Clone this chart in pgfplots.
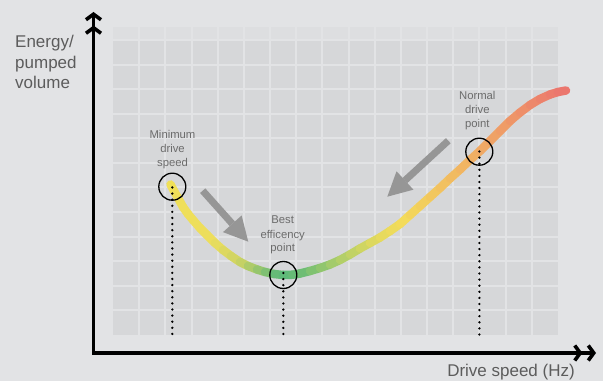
\documentclass[border=0pt]{standalone}
\usepackage{pgfplots}
\pgfplotsset{compat=1.18}
\usetikzlibrary{arrows.meta}
\usepackage{fontspec}
\setmainfont{Liberation Sans}
\definecolor{bggray}{RGB}{226,227,229}
\definecolor{cellgray}{RGB}{214,215,217}
\definecolor{topgray}{RGB}{221,222,224}
\definecolor{arrowgray}{RGB}{150,150,150}
\definecolor{axislbl}{RGB}{92,92,92}
\definecolor{lblcol}{RGB}{108,108,108}
\pgfplotsset{colormap={curvemap}{
 rgb255(57pt)=(240,224,88);
 rgb255(100pt)=(237,222,92);
 rgb255(128pt)=(205,211,100);
 rgb255(150pt)=(145,196,110);
 rgb255(170pt)=(90,185,122);
 rgb255(192pt)=(110,189,116);
 rgb255(227pt)=(172,205,105);
 rgb255(267pt)=(228,218,94);
 rgb255(292pt)=(243,219,90);
 rgb255(327pt)=(242,196,95);
 rgb255(367pt)=(240,172,100);
 rgb255(407pt)=(238,146,105);
 rgb255(453pt)=(235,116,110)}}
\newcommand{\lblfont}{\fontsize{11.3bp}{13bp}\selectfont}
\newcommand{\axfont}{\fontsize{17bp}{20bp}\selectfont}
\tikzset{chev/.tip={Straight Barb[length=5.5bp,width=15bp,sep=4bp]Straight Barb[length=5.5bp,width=15bp,sep=4bp]}}
\begin{document}
\begin{tikzpicture}
\begin{axis}[
  scale only axis, width=445bp, height=308bp,
  xmin=0, xmax=445, ymin=0, ymax=308,
  hide axis, clip=false,
]
% page background
\fill[bggray] (axis cs:-113,-46) rectangle (axis cs:490,335);
% grid cells
\addplot[fill=topgray, draw=none] coordinates {(0,295) (445,295) (445,308) (0,308)} -- cycle;
\addplot[fill=cellgray, draw=none] coordinates {(0,0) (445,0) (445,295) (0,295)} -- cycle;
\pgfplotsinvokeforeach{26.18,52.35,78.53,104.70,130.88,157.06,183.23,209.41,235.59,261.76,287.94,314.12,340.29,366.47,392.65,418.82}{
  \addplot[bggray, line width=2bp] coordinates {(#1,0) (#1,308)};
}
\pgfplotsinvokeforeach{24.58,49.17,73.75,98.33,122.92,147.5,172.08,196.67,221.25,245.83,270.42,295}{
  \addplot[bggray, line width=2bp] coordinates {(0,#1) (445,#1)};
}
% axes
\addplot[black, line width=3.6bp, line join=miter, chev-chev]
  coordinates {(-19.5,327) (-19.5,-18) (487,-18)};
% curve
\addplot[mesh, point meta=x, point meta min=57, point meta max=453,
  colormap name=curvemap, line width=8.5bp, line cap=round, line join=round]
coordinates {
(57.5,150.5) (61,144) (65,137) (70,128) (75,121) (80,115) (87,107) (94,100)
(102,92) (110,85) (118,79) (127,73) (135,69) (144,65.5) (152,63) (161,61)
(170,60) (179,60.2) (187,61.5) (197,64) (207,67) (217,70.5) (227,75) (237,80.5)
(247,86.5) (257,92) (267,97.5) (277,104) (287,111) (297,120) (307,129) (317,138)
(327,147) (337,156.5) (347,165.5) (357,175) (367,184) (377,194) (387,204)
(397,214) (407,222.5) (417,230) (427,236) (437,240.5) (445,243) (453,244.5)
};
% grey arrows
\addplot[draw=arrowgray, line width=7bp, -{Triangle[length=24bp,width=25bp,line width=0pt]}]
  coordinates {(89.7,144.3) (135.3,93.3)};
\addplot[draw=arrowgray, line width=7bp, -{Triangle[length=24bp,width=25bp,line width=0pt]}]
  coordinates {(335.3,194.3) (274.3,138.3)};
% dotted drop lines
\addplot[black, line width=2.6bp, line cap=round, dash pattern=on 0bp off 6.1bp]
  coordinates {(59.3,147.5) (59.3,-1)};
\addplot[black, line width=2.6bp, line cap=round, dash pattern=on 0bp off 6.1bp]
  coordinates {(170.3,62) (170.3,-1)};
\addplot[black, line width=2.6bp, line cap=round, dash pattern=on 0bp off 6.1bp]
  coordinates {(366.4,183.5) (366.4,-1)};
% circles
\addplot[only marks, mark=o, mark size=13.5bp, mark options={line width=1.3bp, black}]
  coordinates {(59.3,148.3) (170.3,60) (366.3,183.3)};
% point labels
\node[anchor=base, text=lblcol, font=\lblfont, inner sep=0pt] at (axis cs:59.5,196.7) {Minimum};
\node[anchor=base, text=lblcol, font=\lblfont, inner sep=0pt] at (axis cs:59.5,182.3) {drive};
\node[anchor=base, text=lblcol, font=\lblfont, inner sep=0pt] at (axis cs:59.5,168.3) {speed};
\node[anchor=base, text=lblcol, font=\lblfont, inner sep=0pt] at (axis cs:169.7,111) {Best};
\node[anchor=base, text=lblcol, font=\lblfont, inner sep=0pt] at (axis cs:169.7,96.3) {efficency};
\node[anchor=base, text=lblcol, font=\lblfont, inner sep=0pt] at (axis cs:169.7,83) {point};
\node[anchor=base, text=lblcol, font=\lblfont, inner sep=0pt] at (axis cs:364.3,235.7) {Normal};
\node[anchor=base, text=lblcol, font=\lblfont, inner sep=0pt] at (axis cs:364.3,221) {drive};
\node[anchor=base, text=lblcol, font=\lblfont, inner sep=0pt] at (axis cs:364.3,207.7) {point};
% axis labels
\node[anchor=base west, text=axislbl, font=\axfont, inner sep=0pt] at (axis cs:-98,287.3) {Energy/};
\node[anchor=base west, text=axislbl, font=\axfont, inner sep=0pt] at (axis cs:-98,266.7) {pumped};
\node[anchor=base west, text=axislbl, font=\axfont, inner sep=0pt] at (axis cs:-98,246) {volume};
\node[anchor=base east, text=axislbl, font=\axfont, inner sep=0pt] at (axis cs:462,-41.7) {Drive speed (Hz)};
\end{axis}
\end{tikzpicture}
\end{document}
